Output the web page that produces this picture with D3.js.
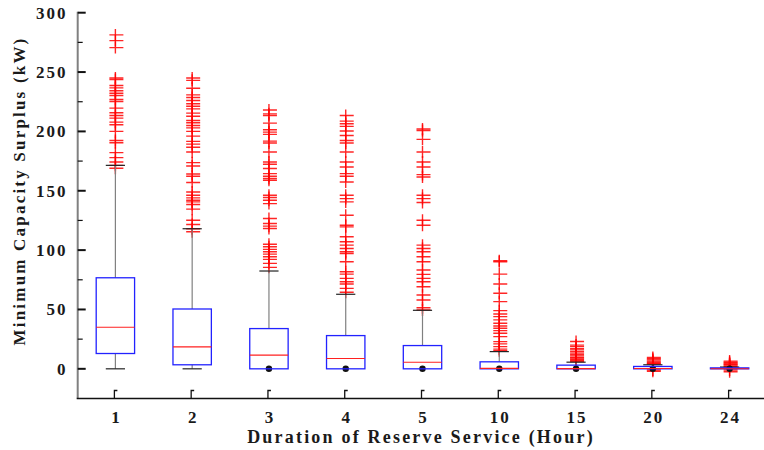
<!DOCTYPE html>
<html><head><meta charset="utf-8">
<script src="https://cdn.jsdelivr.net/npm/d3@7"></script>
<style>
html,body{margin:0;padding:0;background:#fff;}
svg{display:block;}
text{font-family:"Liberation Serif","Times New Roman",serif;font-weight:bold;fill:#1a1a1a;}
</style></head>
<body>
<svg id="chart" width="764" height="450"></svg>
<script>
const categories = ["1","2","3","4","5","10","15","20","24"];
const q1Values      = [12.9, 3.4, 0, 0, 0, 0, 0, 0, 0];
const medianValues  = [35, 18.5, 11.5, 8.7, 5.6, 0.4, 0.2, 0.3, 0.1];
const q3Values      = [76.7, 50.4, 33.9, 28, 19.6, 5.9, 3.1, 2, 0.8];
const whiskerLow    = [0, 0, 0, 0, 0, 0, 0, 0, 0];
const whiskerHigh   = [171.4, 118, 82.4, 62.8, 49.3, 14.5, 5.6, 3.4, 1.5];
const yTickValues   = [0, 50, 100, 150, 200, 250, 300];
const yMinorTicks   = [25, 75, 125, 175, 225, 275];

const outliers1 = [281.3, 276.5, 270.6, 245, 243.7, 238.7, 236.7, 234.2, 232.2, 230.3, 226.9, 225.2, 219.6, 215.7, 213.4, 211.2, 207.8, 205.6, 200, 192.4, 190.5, 182.1, 177.9, 174.2, 171.4, 169];
const outliers2 = [245, 243, 236.4, 230.8, 228.6, 226, 223.3, 221.2, 219, 215.4, 212.8, 209.2, 207.3, 205, 203, 200, 196, 191.6, 189.3, 186.6, 182.6, 173.7, 170.8, 164.1, 162.2, 157, 149, 146.2, 144, 142, 140.6, 138.4, 134.5, 125.2, 121.6, 118, 115.5];
const outliers3 = [218, 214.8, 213.4, 207, 201.4, 199.4, 197.5, 191.8, 190.2, 182.6, 174.2, 172.3, 168.7, 164.4, 162.2, 160.3, 158.8, 146.2, 144.3, 142, 139.2, 126.6, 122.4, 120.2, 118.2, 105, 102.8, 100.6, 98.6, 96.6, 94.4, 92.2, 88.8, 85.5];
const outliers4 = [213.4, 208.7, 206.5, 204.2, 200.3, 196.6, 192.4, 190.2, 182.6, 174.2, 170, 164.4, 162.2, 157.4, 146.2, 143.4, 140.6, 129.4, 121, 119.6, 111.2, 107, 104.2, 101.4, 98.6, 97.2, 90.2, 81.8, 79.8, 76.2, 73.3, 71.4, 67.8, 64.5];
const outliers5 = [202, 200.8, 193.3, 182.6, 174.2, 170, 163.6, 161.6, 146.2, 143.4, 140.1, 125.2, 121, 104.2, 101.4, 98.6, 94.4, 90.2, 83.2, 79.6, 76.2, 73.3, 69.2, 62.2, 58, 51.5, 49.6];
const outliers10 = [91, 90.2, 79.8, 71.4, 63.6, 56.6, 49, 46.2, 44, 41.2, 38.4, 36.1, 34.2, 32.2, 30, 27.1, 22.9, 21, 18.7, 16.6, 15.2];
const outliers15 = [23, 20, 18.7, 17, 16, 14.5, 13.2, 12, 10.9, 9.5, 9, 8, 7, 6.2];
const outliers20 = [9.5, 8.5, 7.5, 6.5, 5.5, 4.5, 4, -1, -2];
const outliers24 = [6.5, 5.5, 4.8, 4, 3.5, 2.5, 2, -1, -2.5];
const outlierLists = [outliers1, outliers2, outliers3, outliers4, outliers5, outliers10, outliers15, outliers20, outliers24];

const svg = d3.select("#chart");
const x = d3.scaleBand().domain(categories).range([77, 768]).padding(0);
const y = d3.scaleLinear().domain([-25, 300]).range([398.5, 12.7]);
const bw = x.bandwidth();
const boxW = bw * 0.5;
const cx = c => x(c) + bw / 2;

const data = categories.map((c, i) => ({
  c, q1: q1Values[i], med: medianValues[i], q3: q3Values[i],
  lo: whiskerLow[i], hi: whiskerHigh[i], out: outlierLists[i]
}));

const g = svg.append("g");
data.forEach(d => {
  const px = cx(d.c);
  g.selectAll(null).data(d.out).enter().append("path")
    .attr("d", v => {
      const py = y(v);
      return `M${px - 6},${py}H${px + 8}M${px},${py - 6}V${py + 6}`;
    })
    .attr("stroke", "#ff0000").attr("stroke-width", 1.4).attr("fill", "none")
    .attr("stroke-opacity", 0.85);
});

data.forEach(d => {
  const px = cx(d.c);
  g.append("line").attr("x1", px).attr("x2", px).attr("y1", y(d.q3)).attr("y2", y(d.hi))
    .attr("stroke", "#808080").attr("stroke-width", 1.2);
  g.append("line").attr("x1", px).attr("x2", px).attr("y1", y(d.q1)).attr("y2", y(d.lo))
    .attr("stroke", "#808080").attr("stroke-width", 1.2);
  g.append("line").attr("x1", px - boxW / 4).attr("x2", px + boxW / 4)
    .attr("y1", y(d.hi)).attr("y2", y(d.hi)).attr("stroke", "#222").attr("stroke-width", 1.2);
  if (d.q1 > d.lo) {
    g.append("line").attr("x1", px - boxW / 4).attr("x2", px + boxW / 4)
      .attr("y1", y(d.lo)).attr("y2", y(d.lo)).attr("stroke", "#222").attr("stroke-width", 1.2);
  } else {
    g.append("circle").attr("cx", px).attr("cy", y(d.lo)).attr("r", 3.2).attr("fill", "#111");
  }
});

data.forEach(d => {
  const px = cx(d.c);
  g.append("rect").attr("x", px - boxW / 2).attr("width", boxW)
    .attr("y", y(d.q3)).attr("height", Math.max(0.5, y(d.q1) - y(d.q3)))
    .attr("fill", "none").attr("stroke", "#2222ff").attr("stroke-width", 1.3);
  g.append("line").attr("x1", px - boxW / 2).attr("x2", px + boxW / 2)
    .attr("y1", y(d.med)).attr("y2", y(d.med)).attr("stroke", "#ff2020").attr("stroke-width", 1.1);
});

const axisX0 = 77.7, axisY0 = 398.5;
svg.append("line").attr("x1", axisX0).attr("x2", axisX0).attr("y1", y(300) - 1).attr("y2", axisY0)
  .attr("stroke", "#808080").attr("stroke-width", 2);
svg.append("line").attr("x1", axisX0 - 1).attr("x2", 764).attr("y1", axisY0).attr("y2", axisY0)
  .attr("stroke", "#111").attr("stroke-width", 1.6);

const yAxis = svg.append("g");
yTickValues.forEach(v => {
  yAxis.append("line").attr("x1", axisX0).attr("x2", axisX0 + 8).attr("y1", y(v)).attr("y2", y(v))
    .attr("stroke", "#111").attr("stroke-width", 2);
  yAxis.append("text").attr("x", 67.5).attr("y", y(v)).attr("dy", "0.35em")
    .attr("text-anchor", "end").attr("font-size", 17).attr("letter-spacing", 2).text(v);
});
yMinorTicks.forEach(v => {
  yAxis.append("line").attr("x1", axisX0).attr("x2", axisX0 + 5).attr("y1", y(v)).attr("y2", y(v))
    .attr("stroke", "#111").attr("stroke-width", 1.2);
});

const xAxis = svg.append("g");
categories.forEach(c => {
  const px = cx(c);
  xAxis.append("path").attr("d", `M${px - 1},${axisY0}V${axisY0 - 8}H${px + 2}`)
    .attr("stroke", "#111").attr("stroke-width", 1.3).attr("fill", "none");
  xAxis.append("text").attr("x", px + 1).attr("y", 423).attr("text-anchor", "middle")
    .attr("font-size", 17).attr("letter-spacing", 2).text(c);
});

svg.append("text").attr("x", 421).attr("y", 443).attr("text-anchor", "middle")
  .attr("font-size", 18).attr("letter-spacing", 2.2).text("Duration of Reserve Service (Hour)");
svg.append("text").attr("transform", "translate(25,191) rotate(-90)").attr("text-anchor", "middle")
  .attr("font-size", 17).attr("letter-spacing", 2.2).text("Minimum Capacity Surplus (kW)");
</script>
</body></html>
